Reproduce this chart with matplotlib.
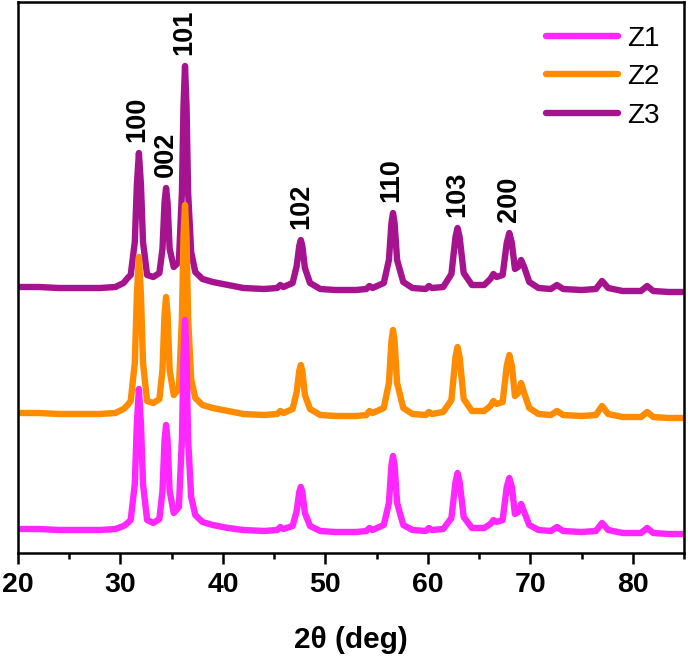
import numpy as np
import matplotlib.pyplot as plt
from matplotlib.ticker import MultipleLocator

plt.rcParams['font.family'] = ['Liberation Sans', 'DejaVu Sans']

# 2theta grid shared by the three patterns (deg)
two_theta = [20, 22, 24, 26, 28, 29.5, 30.3, 30.7, 31.0, 31.4, 31.6, 31.8, 32.0, 32.2,
             32.6, 33.2, 33.8, 34.1, 34.3, 34.45, 34.6, 34.8, 35.2, 35.7, 36.0, 36.15,
             36.3, 36.45, 36.6, 36.9, 37.3, 38.0, 39, 40.5, 42, 44, 45.3, 45.6, 45.9,
             46.8, 47.2, 47.45, 47.6, 47.75, 48.0, 48.5, 49.5, 51, 53, 54.0, 54.3, 54.6,
             55.7, 56.2, 56.45, 56.6, 56.75, 57.0, 57.6, 58.5, 59.8, 60.1, 60.4, 61.5,
             62.3, 62.7, 62.9, 63.1, 63.5, 64.3, 65.5, 66.1, 66.4, 66.7, 67.3, 67.7,
             67.95, 68.2, 68.5, 68.8, 69.1, 69.4, 69.9, 70.8, 72.0, 72.6, 73.2, 75,
             76.4, 77.0, 77.6, 79, 80.8, 81.4, 82.0, 83.5, 85]

# intensities (a.u.), before stacking
z1 = [0, 0, -1, -1, -1, 0, 3, 6, 9, 45, 105, 140, 105, 45, 9, 6, 10, 38, 88, 104, 88, 38,
      16, 22, 90, 170, 209, 170, 90, 32, 14, 7, 4, 1, -1, -2, -1, 2, 0, 3, 18, 37, 42, 37,
      16, 3, -2, -3, -3, -2, 1, -1, 4, 26, 64, 73, 64, 26, 4, -1, -2, 1, -1, 0, 11, 47,
      56, 47, 12, 1, 1, 5, 9, 7, 9, 42, 51, 42, 15, 17, 25, 17, 4, -1, -2, 2, -2, -3,
      -2, 6, -1, -4, -4, 1, -4, -5, -5]
z2 = [0, 0, -1, -1, -1, 0, 4, 8, 12, 50, 118, 156, 118, 50, 12, 10, 14, 43, 98, 116, 98,
      43, 18, 24, 95, 175, 208, 175, 95, 34, 15, 8, 5, 2, -1, -2, -1, 2, 0, 4, 21, 42,
      48, 42, 18, 4, -2, -3, -3, -2, 2, 0, 5, 30, 72, 83, 72, 30, 5, -1, -2, 1, -1, 1,
      13, 56, 66, 56, 14, 2, 2, 7, 12, 9, 11, 47, 58, 47, 17, 20, 30, 20, 5, -1, -2, 2,
      -2, -3, -2, 7, -1, -4, -4, 1, -4, -5, -5]
z3 = [0, 0, -1, -1, -1, 0, 4, 9, 12, 45, 102, 134, 102, 45, 12, 10, 14, 38, 84, 99, 84,
      38, 20, 25, 95, 180, 221, 180, 95, 35, 15, 8, 5, 2, -1, -2, -1, 2, 0, 4, 21, 41,
      47, 41, 19, 4, -2, -3, -3, -2, 1, -1, 4, 27, 64, 74, 64, 27, 5, -1, -2, 1, -1, 0,
      13, 50, 59, 50, 14, 2, 2, 8, 13, 10, 12, 44, 54, 44, 18, 20, 27, 20, 5, -1, -2, 2,
      -2, -3, -2, 6, -1, -4, -4, 1, -4, -5, -5]

labels = ['Z1', 'Z2', 'Z3']
offsets = [24, 140, 266]
colors = ['#FF26FF', '#FF8C00', '#A6138F']

hkl = ['100', '002', '101', '102', '110', '103', '200']
hkl_pos = [31.6, 34.4, 36.2, 47.6, 56.4, 62.9, 67.9]

fig = plt.figure(figsize=(6.88, 6.58), dpi=100)
ax = fig.add_axes([18 / 688, 1 - 553 / 658, 666 / 688, 551 / 658])

x = np.array(two_theta)
series = [np.array(z1), np.array(z2), np.array(z3)]
lines = []
# Z3 at the back, Z1 in front
for i in [2, 1, 0]:
    ln, = ax.plot(x, series[i] + offsets[i], color=colors[i], lw=4.6,
                  solid_joinstyle='round', solid_capstyle='round', label=labels[i])
    lines.append(ln)
lines = lines[::-1]

top3 = series[2] + offsets[2]
for name, pos in zip(hkl, hkl_pos):
    near = np.abs(x - pos) < 0.4
    y = top3[near].max() + 11
    ax.text(pos, y, name, rotation=90, ha='center', va='bottom',
            fontsize=19.5, fontweight='bold')

ax.set_xlim(20, 85)
ax.set_ylim(0, 551)
ax.xaxis.set_major_locator(MultipleLocator(10))
ax.xaxis.set_minor_locator(MultipleLocator(5))
ax.set_yticks([])
ax.tick_params(axis='x', which='major', direction='out', length=8, width=1.8,
               labelsize=20.5, pad=6)
ax.tick_params(axis='x', which='minor', direction='out', length=4.5, width=1.8)
for lab in ax.get_xticklabels():
    lab.set_fontweight('bold')
for sp in ax.spines.values():
    sp.set_linewidth(1.8)

ax.set_xlabel('2θ (deg)', fontsize=21.5, fontweight='bold', labelpad=20)

leg = ax.legend(lines, labels, loc='upper right', bbox_to_anchor=(0.99, 0.99),
                frameon=False, fontsize=20, handlelength=2.6, handletextpad=0.3,
                labelspacing=0.45, borderaxespad=0.25)
for h in leg.legend_handles:
    h.set_linewidth(4.6)

fig.savefig('out.png', dpi=100)
